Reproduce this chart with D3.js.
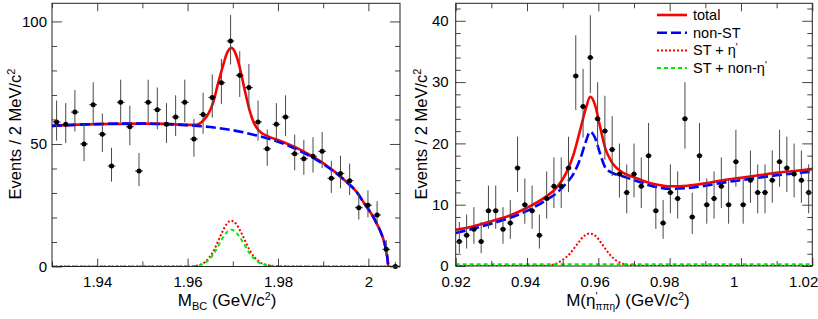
<!DOCTYPE html>
<html>
<head>
<meta charset="utf-8">
<script src="https://cdn.jsdelivr.net/npm/d3@7"></script>
<style>
  body { margin: 0; background: #fff; }
  text { font-family: "Liberation Sans", Arial, Helvetica, sans-serif; fill: #000; }
</style>
</head>
<body>
<svg id="chart" width="818" height="319"></svg>
<script>
// ---------- left panel: M_BC ----------
var mbcRange = [1.93, 2.007];
var mbcCounts = [59, 58, 63, 50, 66, 54, 41, 67, 57, 39, 67, 64, 58, 61, 67, 52, 62, 69, 75, 92,
                 78, 73, 59, 48, 58, 61, 46, 44, 45, 47, 36, 38, 35, 24, 25, 21, 7, 0];
var mbcTicks = [1.94, 1.96, 1.98, 2.0];
var mbcMinor = [1.93, 1.95, 1.97, 1.99];
var mbcYTicks = [0, 50, 100];
var mbcYMinor = [10, 20, 30, 40, 60, 70, 80, 90];

var mbcBgX = [1.930, 1.935, 1.940, 1.945, 1.950, 1.955, 1.960, 1.965, 1.970, 1.975, 1.980, 1.985, 1.990,
              1.995, 1.9975, 1.999, 2.000, 2.001, 2.002, 2.003, 2.0037, 2.0040, 2.0042, 2.0044];
var mbcBgY = [57.4, 57.8, 58.1, 58.3, 58.3, 58.1, 57.7, 56.9, 55.6, 53.6, 50.9, 47.0, 41.8,
              34.8, 30.2, 26.0, 23.4, 20.5, 17.0, 12.8, 8.6, 5.6, 3.6, 0];
var mbcTotX = [1.930, 1.940, 1.950, 1.955, 1.960, 1.9617, 1.9637, 1.9647, 1.9657, 1.9667, 1.9677, 1.9687,
               1.9697, 1.9707, 1.9717, 1.9727, 1.9737, 1.9747, 1.9757, 1.9777, 1.980, 1.985, 1.990,
               1.995, 1.9975, 1.999, 2.000, 2.001, 2.002, 2.003, 2.0037, 2.0040, 2.0042, 2.0044];
var mbcTotY = [57.4, 58.1, 58.3, 58.2, 57.8, 57.8, 60.0, 62.7, 67.1, 74.4, 81.0, 87.0,
               89.2, 86.5, 80.0, 71.5, 63.8, 58.5, 55.6, 53.2, 51.6, 47.6, 42.2,
               34.8, 30.2, 26.0, 23.4, 20.5, 17.0, 12.8, 8.6, 5.6, 3.6, 0];
var mbcSigX = [1.930, 1.9597, 1.9617, 1.9637, 1.9647, 1.9657, 1.9667, 1.9677, 1.9687, 1.9697,
               1.9707, 1.9717, 1.9727, 1.9737, 1.9747, 1.9757, 1.9777, 1.980, 1.985, 2.007];
var mbcEtaY = [0, 0, 0.25, 1.6, 3.4, 6.2, 10.1, 14.2, 17.5, 18.7,
               17.5, 14.4, 10.6, 6.8, 4.0, 2.1, 0.6, 0.15, 0, 0];
var mbcNonEtaY = [0, 0, 0.2, 1.3, 2.7, 5.0, 8.1, 11.4, 14.0, 15.0,
                  14.0, 11.5, 8.5, 5.4, 3.2, 1.7, 0.5, 0.1, 0, 0];

// ---------- right panel: M(eta') ----------
var etaRange = [0.92, 1.02];
var etaCounts = [4, 5, 6, 4, 9, 9, 6, 7, 16, 10, 9, 5, 11, 13, 13, 16, 31, 26, 34, 24,
                 22, 19, 15, 12, 15, 13, 18, 9, 7, 12, 11, 24, 8, 18, 10, 11, 13, 10, 17, 10,
                 14, 12, 12, 14, 17, 16, 15, 14, 12];
var etaTicks = [0.92, 0.94, 0.96, 0.98, 1.0, 1.02];
var etaMinor = [0.93, 0.95, 0.97, 0.99, 1.01];
var etaYTicks = [0, 10, 20, 30, 40];
var etaYMinor = [2, 4, 6, 8, 12, 14, 16, 18, 22, 24, 26, 28, 32, 34, 36, 38, 42];

var etaBgX = [0.920, 0.925, 0.930, 0.935, 0.940, 0.945, 0.9485, 0.951, 0.953, 0.955, 0.9565, 0.9577,
              0.959, 0.9605, 0.962, 0.9635, 0.967, 0.970, 0.9735, 0.977, 0.980, 0.985, 0.990,
              0.995, 1.000, 1.005, 1.010, 1.015, 1.020];
var etaBgY = [5.4, 6.1, 6.9, 7.8, 9.0, 10.6, 12.0, 13.5, 15.0, 17.6, 20.3, 21.9,
              21.0, 18.3, 16.0, 15.3, 14.6, 14.0, 13.3, 12.8, 12.6, 12.7, 13.1,
              13.6, 14.0, 14.4, 14.8, 15.1, 15.4];
var etaTotY = [5.9, 6.5, 7.3, 8.2, 9.5, 11.2, 12.9, 15.2, 18.1, 22.4, 25.7, 27.6,
               26.4, 22.7, 19.1, 17.2, 15.2, 14.5, 13.7, 13.2, 13.0, 13.1, 13.5,
               14.0, 14.4, 14.8, 15.2, 15.5, 15.8];
var etaSigX = [0.920, 0.944, 0.946, 0.948, 0.950, 0.952, 0.954, 0.956, 0.9575, 0.959, 0.961,
               0.963, 0.965, 0.967, 0.969, 0.972, 0.975, 1.020];
var etaSigY = [0, 0.02, 0.1, 0.35, 1.0, 2.0, 3.5, 4.9, 5.3, 5.0, 3.6,
               2.0, 0.9, 0.35, 0.15, 0.03, 0, 0];
var etaFlatX = [0.92, 1.02];
var etaFlatY = [0.3, 0.3];

var legendLabels = ["total", "non-ST", "ST + η", "ST + non-η"];

var svg = d3.select("#chart");

var styles = {
  total:  {stroke: "#ff0000", width: 2.6, dash: null},
  nonst:  {stroke: "#0000ff", width: 2.6, dash: "10,4"},
  steta:  {stroke: "#ff0000", width: 2, dash: "2,2"},
  stnon:  {stroke: "#00ee00", width: 2, dash: "4,3"}
};

// Poisson errors (Gehrels approx.)
function errUp(n) { return n + Math.sqrt(n + 0.75) + 1; }
function errLo(n) {
  if (n == 0) return 0;
  return n * Math.pow(1 - 1 / (9 * n) - 1 / (3 * Math.sqrt(n)), 3);
}

function drawPanel(p) {
  var g = svg.append("g");
  var x = d3.scaleLinear().domain(p.xDomain).range([p.left, p.right]);
  var y = d3.scaleLinear().domain(p.yDomain).range([p.bottom, p.top]);
  // the tick labels of the reference sit on a slightly shorter span than the ticks
  var xLab = d3.scaleLinear().domain(p.xDomain).range([p.left, p.labelRight || p.right]);

  g.append("clipPath").attr("id", p.id + "clip")
    .append("rect").attr("x", p.left).attr("y", p.top)
    .attr("width", p.right - p.left).attr("height", p.bottom - p.top);

  var plot = g.append("g").attr("clip-path", "url(#" + p.id + "clip)");
  var line = d3.line().x(d => x(d[0])).y(d => y(d[1])).curve(d3.curveMonotoneX);

  p.curves.forEach(function(c) {
    var s = styles[c.style];
    plot.append("path")
      .datum(d3.zip(c.x, c.y))
      .attr("fill", "none")
      .attr("stroke", s.stroke)
      .attr("stroke-width", s.width)
      .attr("stroke-dasharray", s.dash)
      .attr("d", line);
  });

  // data points
  var n = p.counts.length;
  var bw = (p.xDomain[1] - p.xDomain[0]) / n;
  var pts = p.counts.map((c, i) => ({x: p.xDomain[0] + (i + 0.5) * bw, n: c}));
  var dp = g.append("g");
  dp.selectAll(".ev").data(pts).enter().append("line")
    .attr("x1", d => x(d.x)).attr("x2", d => x(d.x))
    .attr("y1", d => y(errLo(d.n))).attr("y2", d => y(errUp(d.n)))
    .attr("stroke", "#4a4a4a").attr("stroke-width", 1);
  dp.selectAll(".eh").data(pts).enter().append("line")
    .attr("x1", d => x(d.x - bw * 0.42)).attr("x2", d => x(d.x + bw * 0.42))
    .attr("y1", d => y(d.n)).attr("y2", d => y(d.n))
    .attr("stroke", "#222").attr("stroke-width", 1);
  dp.selectAll("circle").data(pts).enter().append("circle")
    .attr("cx", d => x(d.x)).attr("cy", d => y(d.n)).attr("r", 2.5)
    .attr("fill", "#000");

  // axes (ROOT style ticks inside, all four sides)
  function styleAxis(a) {
    a.select(".domain").remove();
    a.selectAll(".tick line").attr("stroke", "#444");
    a.selectAll("text").style("font-size", "15px").attr("font-family", null);
  }
  var fmt = d => String(+d.toFixed(2));
  styleAxis(g.append("g").attr("transform", "translate(0," + p.bottom + ")")
    .call(d3.axisBottom(x).tickValues(p.xTicks).tickSize(-8).tickFormat("")));
  styleAxis(g.append("g").attr("transform", "translate(0," + p.bottom + ")")
    .call(d3.axisBottom(xLab).tickValues(p.xTicks).tickSize(0).tickPadding(10).tickFormat(fmt)));
  styleAxis(g.append("g").attr("transform", "translate(0," + p.bottom + ")")
    .call(d3.axisBottom(x).tickValues(p.xMinor).tickSize(-5).tickFormat("")));
  styleAxis(g.append("g").attr("transform", "translate(0," + p.top + ")")
    .call(d3.axisTop(x).tickValues(p.xTicks).tickSize(-8).tickFormat("")));
  styleAxis(g.append("g").attr("transform", "translate(0," + p.top + ")")
    .call(d3.axisTop(x).tickValues(p.xMinor).tickSize(-5).tickFormat("")));
  styleAxis(g.append("g").attr("transform", "translate(" + p.left + ",0)")
    .call(d3.axisLeft(y).tickValues(p.yTicks).tickSize(-10).tickPadding(p.yPad).tickFormat(fmt)));
  styleAxis(g.append("g").attr("transform", "translate(" + p.left + ",0)")
    .call(d3.axisLeft(y).tickValues(p.yMinor).tickSize(-5).tickFormat("")));
  styleAxis(g.append("g").attr("transform", "translate(" + p.right + ",0)")
    .call(d3.axisRight(y).tickValues(p.yTicks).tickSize(-10).tickFormat("")));
  styleAxis(g.append("g").attr("transform", "translate(" + p.right + ",0)")
    .call(d3.axisRight(y).tickValues(p.yMinor).tickSize(-5).tickFormat("")));

  g.append("rect").attr("x", p.left).attr("y", p.top)
    .attr("width", p.right - p.left).attr("height", p.bottom - p.top)
    .attr("fill", "none").attr("stroke", "#222").attr("stroke-width", 1);

  // y title
  var yt = g.append("text")
    .attr("transform", "translate(" + p.yTitleX + ",134) rotate(-90)")
    .attr("text-anchor", "middle").style("font-size", "16.5px");
  yt.append("tspan").text("Events / 2 MeV/c");
  yt.append("tspan").attr("dy", -6).style("font-size", "11px").text("2");

  return {x: x, y: y, g: g};
}

var left = drawPanel({
  id: "mbc", left: 52, right: 400, top: 3.3, bottom: 266.5,
  xDomain: mbcRange, yDomain: [0, 107.4],
  xTicks: mbcTicks, xMinor: mbcMinor, yTicks: mbcYTicks, yMinor: mbcYMinor, yPad: 5,
  counts: mbcCounts, yTitleX: 21,
  curves: [
    {x: mbcTotX, y: mbcTotY, style: "total"},
    {x: mbcBgX, y: mbcBgY, style: "nonst"},
    {x: mbcSigX, y: mbcEtaY, style: "steta"},
    {x: mbcSigX, y: mbcNonEtaY, style: "stnon"}
  ]
});

var right = drawPanel({
  id: "eta", left: 455.7, right: 812.3, labelRight: 803.2, top: 3.3, bottom: 266,
  xDomain: etaRange, yDomain: [0, 42.85],
  xTicks: etaTicks, xMinor: etaMinor, yTicks: etaYTicks, yMinor: etaYMinor, yPad: 7,
  counts: etaCounts, yTitleX: 427,
  curves: [
    {x: etaBgX, y: etaTotY, style: "total"},
    {x: etaBgX, y: etaBgY, style: "nonst"},
    {x: etaSigX, y: etaSigY, style: "steta"},
    {x: etaFlatX, y: etaFlatY, style: "stnon"}
  ]
});

// x titles
var xt1 = svg.append("text").attr("x", 227).attr("y", 306).attr("text-anchor", "middle")
  .style("font-size", "17px");
xt1.append("tspan").text("M");
xt1.append("tspan").attr("dy", 4).style("font-size", "11px").text("BC");
xt1.append("tspan").attr("dy", -4).text(" (GeV/c");
xt1.append("tspan").attr("dy", -6).style("font-size", "10.5px").text("2");
xt1.append("tspan").attr("dy", 6).text(")");

var xt2 = svg.append("text").attr("x", 628).attr("y", 306).attr("text-anchor", "middle")
  .style("font-size", "17px");
xt2.append("tspan").text("M(η");
xt2.append("tspan").attr("dy", -6).style("font-size", "11px").text("'");
xt2.append("tspan").attr("dy", 10).attr("dx", -2).style("font-size", "10px").text("ππη");
xt2.append("tspan").attr("dy", -4).text(")  (GeV/c");
xt2.append("tspan").attr("dy", -6).style("font-size", "10.5px").text("2");
xt2.append("tspan").attr("dy", 6).text(")");

// legend
var legKeys = ["total", "nonst", "steta", "stnon"];
var leg = svg.append("g");
legKeys.forEach(function(k, i) {
  var s = styles[k];
  var yy = 15 + i * 17.7;
  leg.append("line").attr("x1", 657).attr("x2", 687).attr("y1", yy).attr("y2", yy)
    .attr("stroke", s.stroke).attr("stroke-width", s.width).attr("stroke-dasharray", s.dash);
  var t = leg.append("text").attr("x", 693).attr("y", yy + 5).style("font-size", "14.5px")
    .text(legendLabels[i]);
  if (i >= 2) t.append("tspan").attr("dy", -4).style("font-size", "10px").text("'");
});
</script>
</body>
</html>
